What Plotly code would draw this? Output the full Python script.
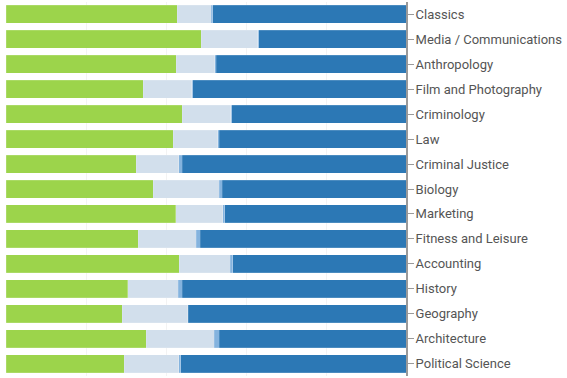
import plotly.graph_objects as go

categories = ["Classics", "Media / Communications", "Anthropology", "Film and Photography",
              "Criminology", "Law", "Criminal Justice", "Biology", "Marketing",
              "Fitness and Leisure", "Accounting", "History", "Geography",
              "Architecture", "Political Science"]
green = [42.75, 48.75, 42.5, 34.3, 44.0, 41.75, 32.5, 36.75, 42.4, 33.0, 43.25, 30.4, 29.0, 35.1, 29.5]
light = [8.6, 14.2, 9.7, 12.1, 12.2, 11.2, 10.7, 16.5, 11.8, 14.5, 12.8, 12.6, 16.4, 16.9, 13.7]
mid = [0.35, 0.25, 0.33, 0.33, 0.25, 0.33, 0.8, 0.75, 0.5, 1.1, 0.6, 1.0, 0.2, 1.25, 0.5]
dark = [round(100 - g - l - m, 2) for g, l, m in zip(green, light, mid)]

series = [
    ("Green", green, "#9cd44b"),
    ("Light", light, "#d2dfec"),
    ("Mid", mid, "#84b3de"),
    ("Dark", dark, "#2c78b5"),
]

fig = go.Figure()
for name, vals, color in series:
    fig.add_trace(go.Bar(
        y=categories, x=vals, name=name, orientation="h",
        marker=dict(color=color, line=dict(color="rgba(255,255,255,0.25)", width=0.6)),
        showlegend=False,
    ))

fig.update_layout(
    barmode="stack",
    bargap=0.278,
    width=567, height=378,
    margin=dict(l=6, r=161, t=2, b=2, autoexpand=False),
    paper_bgcolor="white", plot_bgcolor="white",
    font=dict(family="Roboto", size=13, color="#555555"),
    xaxis=dict(range=[0, 100], dtick=20, showgrid=True, gridcolor="#f3f3f3",
               showticklabels=False, zeroline=False, showline=False, fixedrange=True),
    yaxis=dict(side="right", autorange="reversed", showline=True, linecolor="#9a9a9a",
               linewidth=2, ticks="outside", ticklen=6, tickcolor="#9a9a9a", tickwidth=1,
               ticklabelstandoff=-1,
               showgrid=False, tickfont=dict(family="Roboto", size=13, color="#555555")),
)

fig.write_html("out.html", config={"displayModeBar": False},
               post_script="document.body.style.margin='0';document.body.style.overflow='hidden';")
